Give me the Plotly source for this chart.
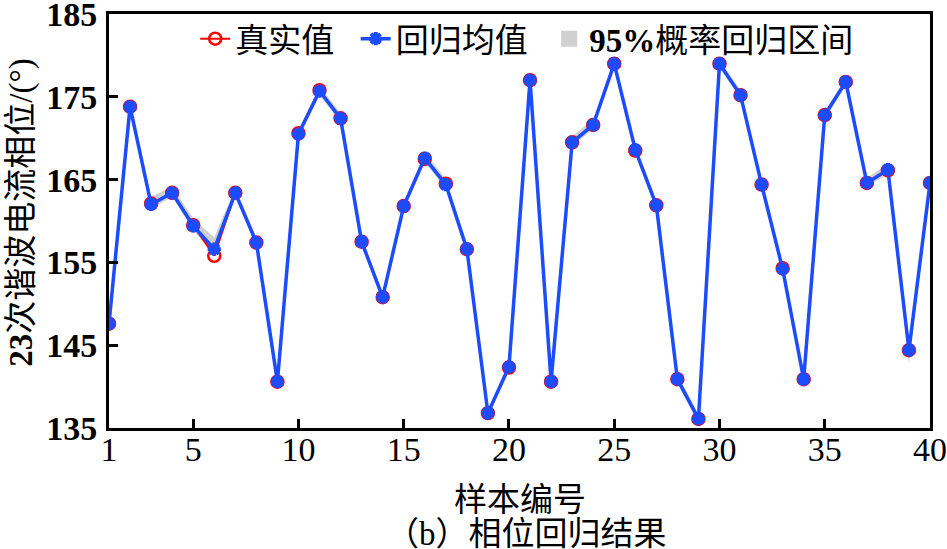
import plotly.graph_objects as go

samples = list(range(1, 41))
true_vals = [147.6, 173.8, 162.1, 163.4, 159.5, 155.8, 163.4, 157.4, 140.6, 170.6,
             175.8, 172.4, 157.5, 150.8, 161.8, 167.5, 164.5, 156.6, 136.8, 142.3,
             177.0, 140.6, 169.5, 171.6, 179.0, 168.5, 161.9, 140.9, 136.1, 179.0,
             175.2, 164.4, 154.3, 140.9, 172.8, 176.8, 164.6, 166.1, 144.4, 164.6]
mean_vals = [147.6, 173.8, 162.0, 163.4, 159.4, 156.6, 163.4, 157.4, 140.6, 170.5,
             175.7, 172.4, 157.5, 150.8, 161.8, 167.6, 164.4, 156.6, 136.8, 142.4,
             177.0, 140.6, 169.5, 171.6, 179.0, 168.6, 161.9, 140.9, 136.1, 179.0,
             175.2, 164.4, 154.2, 140.9, 172.8, 176.8, 164.6, 166.2, 144.4, 164.6]
upper_vals = [148.1, 174.3, 162.9, 164.2, 160.3, 158.0, 164.0, 158.1, 141.1, 171.0,
              176.3, 173.0, 158.0, 151.3, 162.3, 168.2, 165.1, 157.3, 137.3, 142.9,
              177.5, 141.1, 170.2, 172.3, 179.5, 169.2, 162.4, 141.5, 136.7, 179.5,
              175.8, 164.9, 154.7, 141.4, 173.3, 177.3, 165.2, 166.9, 144.9, 165.1]
lower_vals = [147.1, 173.3, 161.5, 162.9, 158.9, 155.9, 162.9, 156.9, 140.1, 170.0,
              175.2, 171.9, 157.0, 150.3, 161.3, 167.1, 163.9, 156.1, 136.3, 141.9,
              176.5, 140.1, 169.0, 171.1, 178.5, 168.1, 161.4, 140.4, 135.6, 178.5,
              174.7, 163.9, 153.7, 140.4, 172.3, 176.3, 164.1, 165.7, 142.8, 164.1]

x_ticks = [1, 5, 10, 15, 20, 25, 30, 35, 40]
y_ticks = [135, 145, 155, 165, 175, 185]

FONT = "Liberation Serif, Noto Sans CJK SC"
BLUE = "#1c4cff"
RED = "#ff0000"
GRAY = "#d0d0d0"
NB = "\u00a0"

fig = go.Figure()
fig.add_trace(go.Scatter(x=samples, y=lower_vals, mode="lines", line=dict(width=0, color=GRAY),
                         showlegend=False, hoverinfo="skip"))
fig.add_trace(go.Scatter(x=samples, y=upper_vals, mode="lines", line=dict(width=0, color=GRAY),
                         fill="tonexty", fillcolor=GRAY, showlegend=False, hoverinfo="skip"))
fig.add_trace(go.Scatter(x=samples, y=true_vals, mode="lines+markers", name="真实值" + NB * 2,
                         line=dict(color=RED, width=2),
                         marker=dict(symbol="circle-open", size=12, color=RED, line=dict(width=2.5, color=RED))))
fig.add_trace(go.Scatter(x=samples, y=mean_vals, mode="lines+markers", name="回归均值" + NB * 2,
                         line=dict(color=BLUE, width=3.5),
                         marker=dict(symbol="asterisk-open", size=11, color=BLUE, line=dict(width=4, color=BLUE))))
# legend entry for the confidence band
fig.add_trace(go.Scatter(x=[None], y=[None], mode="markers", name="<b>95%</b>概率回归区间",
                         marker=dict(symbol="square", size=22, color=GRAY, line=dict(width=0))))

axis_common = dict(showline=True, linewidth=3, linecolor="black", mirror=True,
                   ticks="inside", ticklen=9, tickwidth=3, tickcolor="black",
                   showgrid=False, zeroline=False, automargin=False,
                   ticklabeloverflow="allow")

fig.update_xaxes(range=[1, 40], tickvals=x_ticks, ticktext=[str(v) for v in x_ticks],
                 tickfont=dict(family="Liberation Serif", size=34, color="black"),
                 ticklabelstandoff=-11, **axis_common)
fig.update_yaxes(range=[135, 185], tickvals=y_ticks, ticktext=[str(v) for v in y_ticks],
                 tickfont=dict(family="Liberation Serif", size=34, color="black", weight="bold"),
                 ticklabelstandoff=2, **axis_common)

fig.update_layout(
    width=947, height=549,
    margin=dict(l=109, r=17, t=11, b=121),
    plot_bgcolor="white", paper_bgcolor="white",
    font=dict(family=FONT, color="black"),
    legend=dict(orientation="h", x=0.105, y=1.008, xanchor="left", yanchor="top",
                bgcolor="rgba(0,0,0,0)", font=dict(family=FONT, size=33, color="black"),
                itemwidth=30, traceorder="normal", borderwidth=0),
    showlegend=True,
    annotations=[
        dict(text="样本编号", xref="paper", yref="paper", x=0.5, y=-0.175, xanchor="center", yanchor="middle",
             showarrow=False, font=dict(family=FONT, size=33, color="black")),
        dict(text="（b）相位回归结果", xref="paper", yref="paper", x=0.509, y=-0.255, xanchor="center", yanchor="middle",
             showarrow=False, font=dict(family=FONT, size=33, color="black")),
        dict(text="<b>23</b>次谐波电流相位/(°)", xref="paper", yref="paper", x=-0.106, y=0.52,
             xanchor="center", yanchor="middle", textangle=-90,
             showarrow=False, font=dict(family=FONT, size=33, color="black")),
    ],
)

fig.write_html("out.html", config={"displayModeBar": False},
               post_script="document.body.style.margin='0';")
